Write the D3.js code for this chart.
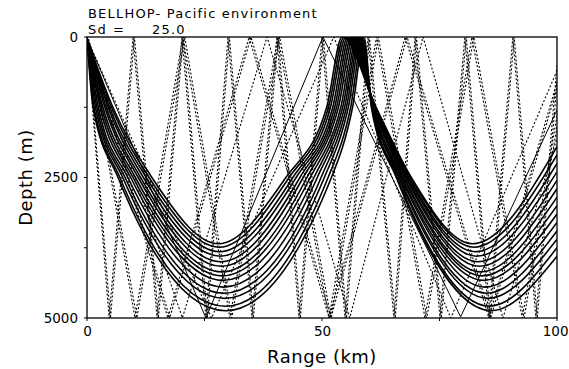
<!DOCTYPE html>
<html>
<head>
<meta charset="utf-8">
<script src="https://cdn.jsdelivr.net/npm/d3@7"></script>
<style>
  body { margin: 0; background: #fff; }
  svg text { font-family: "DejaVu Sans", sans-serif; fill: #000; }
</style>
</head>
<body>
<div id="chart"></div>
<script>
// ---- values (range in km, depth in m) ----
const rangeTicks = [0, 50, 100];
const rangeMinor = [25, 75];
const depthTicks = [0, 2500, 5000];
const depthMinor = [1250, 3750];
const sourceDepth = 25;

// refracted (solid) rays, shallowest turning ray first
const turnDepth  = [3680, 3740, 3820, 3900, 4000, 4080, 4180, 4250, 4330, 4450, 4560, 4650, 4790, 4870];
const down1250   = [5.5, 5.2, 4.8, 4.5, 4.1, 3.8, 3.4, 3.1, 2.8, 2.4, 2.1, 1.8, 1.5, 1.3];
const down2500   = [13.8, 13.2, 12.6, 12.0, 11.4, 10.9, 10.3, 9.8, 9.3, 8.7, 8.1, 7.6, 7.0, 6.6];
const turn1      = [28.0, 28.1, 28.2, 28.4, 28.5, 28.6, 28.7, 28.8, 28.9, 29.0, 29.1, 29.2, 29.4, 29.5];
const up2500     = [42.3, 43.0, 43.8, 44.5, 45.3, 46.0, 46.8, 47.5, 48.3, 49.0, 49.8, 50.5, 51.3, 52.0];
const up1250     = [51.0, 51.4, 51.8, 52.3, 52.7, 53.1, 53.5, 54.0, 54.4, 54.8, 55.2, 55.6, 56.1, 56.5];
const surface1   = [54.3, 54.7, 55.1, 55.5, 55.9, 56.3, 56.7, 57.1, 57.5, 57.8, 58.1, 58.4, 58.7, 59.0];
const down1250b  = [61.5, 61.4, 61.4, 61.3, 61.2, 61.2, 61.1, 61.0, 60.9, 60.8, 60.8, 60.7, 60.6, 60.5];
const down2500b  = [69.0, 68.8, 68.5, 68.3, 68.0, 67.8, 67.5, 67.3, 67.0, 66.8, 66.5, 66.3, 66.0, 65.8];
const turn2      = [82.0, 82.3, 82.6, 82.9, 83.2, 83.5, 83.8, 84.1, 84.4, 84.7, 85.0, 85.3, 85.6, 86.0];
const depthAt100 = [1950, 2100, 2250, 2400, 2550, 2700, 2850, 3000, 3150, 3300, 3450, 3600, 3750, 3900];

// steep ray that grazes the bottom (solid)
const grazeRay = [[0, 25], [25.3, 5000], [50.2, 0], [79.5, 4980], [100, 1300]];

// bottom-bouncing (dotted) rays: ranges of successive bounces
const bounceA  = [4.7, 9.8, 14.9, 20.2, 25.3, 30.0, 35.1, 40.4, 45.1, 50.0, 54.9, 59.8, 65.3, 69.8, 75.1, 80.4, 85.5, 90.6, 95.5];
const bounceA2 = [0.1, 5.0, 10.1, 15.2, 20.5, 25.6, 30.3, 35.4, 40.7, 45.4, 50.3, 55.2, 60.1, 65.6, 70.1, 75.4, 80.7, 85.8, 90.9, 95.8];
const bounceB  = [10.2, 20.4, 30.4, 40.6, 51.5, 61.6, 71.9, 81.9, 92.6];
const bounceB2 = [0.2, 10.6, 20.8, 30.8, 41.0, 51.9, 62.0, 72.3, 82.3, 93.0];
const bounceC  = [17.2, 34.5, 51.5, 67.7, 85.5];
const bounceC2 = [0.2, 17.6, 34.9, 51.9, 68.1, 85.9];
const bounceD  = [20.3, 38.3, 55.9, 71.5, 88.5];
const bounceE  = [26.5, 52.5, 77.4];
// first bounce on the bottom (true) or the surface (false), and depth at 100 km
const dottedRays = [
  { bounces: bounceA,  bottomFirst: true,  end: 500 },
  { bounces: bounceA2, bottomFirst: false, end: 800 },
  { bounces: bounceB,  bottomFirst: true,  end: 1400 },
  { bounces: bounceB2, bottomFirst: false, end: 1600 },
  { bounces: bounceC,  bottomFirst: true,  end: 800 },
  { bounces: bounceC2, bottomFirst: false, end: 900 },
  { bounces: bounceD,  bottomFirst: true,  end: 1800 },
  { bounces: bounceE,  bottomFirst: true,  end: 600 }
];

// ---- layout ----
const width = 569, height = 369;
const margin = { top: 37, right: 12, bottom: 51, left: 87 };
const innerW = width - margin.left - margin.right;
const innerH = height - margin.top - margin.bottom;
const bottomDepth = 5000;

const svg = d3.select('#chart').append('svg')
  .attr('width', width)
  .attr('height', height);

const x = d3.scaleLinear().domain([0, 100]).range([margin.left, margin.left + innerW]);
const y = d3.scaleLinear().domain([0, bottomDepth]).range([margin.top, margin.top + innerH]);

// clip the rays to the plot box
svg.append('clipPath').attr('id', 'box')
  .append('rect')
  .attr('x', x(0)).attr('y', y(0))
  .attr('width', innerW).attr('height', innerH);

const plot = svg.append('g').attr('clip-path', 'url(#box)');

// build solid ray point lists from the columns
const solidRays = turnDepth.map((z, i) => [
  [0, sourceDepth],
  [down1250[i], 1250],
  [down2500[i], 2500],
  [turn1[i], z],
  [up2500[i], 2500],
  [up1250[i], 1250],
  [surface1[i], 0],
  [down1250b[i], 1250],
  [down2500b[i], 2500],
  [turn2[i], z],
  [100, depthAt100[i]]
]);

const smooth = d3.line().x(d => x(d[0])).y(d => y(d[1])).curve(d3.curveMonotoneX);
const straight = d3.line().x(d => x(d[0])).y(d => y(d[1]));

// dotted rays
const dottedPts = dottedRays.map(r => {
  const pts = [[0, sourceDepth]];
  r.bounces.forEach((b, k) => {
    const onBottom = (k % 2 === 0) === r.bottomFirst;
    pts.push([b, onBottom ? bottomDepth : 0]);
  });
  pts.push([100, r.end]);
  return pts;
});

plot.selectAll('path.dotted')
  .data(dottedPts)
  .join('path')
    .attr('class', 'dotted')
    .attr('d', straight)
    .attr('fill', 'none')
    .attr('stroke', '#000')
    .attr('stroke-width', 1.1)
    .attr('stroke-dasharray', '2,2');

plot.selectAll('path.solid')
  .data(solidRays)
  .join('path')
    .attr('class', 'solid')
    .attr('d', smooth)
    .attr('fill', 'none')
    .attr('stroke', '#000')
    .attr('stroke-width', 1.6);

plot.append('path')
  .datum(grazeRay)
  .attr('d', straight)
  .attr('fill', 'none')
  .attr('stroke', '#000')
  .attr('stroke-width', 1);

// ---- frame and axes ----
svg.append('rect')
  .attr('x', x(0)).attr('y', y(0))
  .attr('width', innerW).attr('height', innerH)
  .attr('fill', 'none')
  .attr('stroke', '#000')
  .attr('stroke-width', 1.3);

const xAxis = d3.axisBottom(x).tickValues(rangeTicks).tickSize(0).tickPadding(8).tickFormat(d3.format('d'));
const yAxis = d3.axisLeft(y).tickValues(depthTicks).tickSize(0).tickPadding(9).tickFormat(d3.format('d'));

svg.append('g')
  .attr('transform', `translate(0,${y(bottomDepth)})`)
  .call(xAxis)
  .call(g => g.select('.domain').remove())
  .call(g => g.selectAll('text')
    .attr('font-size', 13.5)
    .attr('font-family', '"DejaVu Sans", sans-serif'))
  // last label sits against the page edge, keep it inside
  .call(g => g.selectAll('.tick').filter(d => d === 100).select('text')
    .attr('text-anchor', 'end')
    .attr('x', 11));

svg.append('g')
  .attr('transform', `translate(${x(0)},0)`)
  .call(yAxis)
  .call(g => g.select('.domain').remove())
  .selectAll('text')
    .attr('font-size', 13.5)
    .attr('font-family', '"DejaVu Sans", sans-serif');

// small outward ticks
svg.append('g').selectAll('line')
  .data(depthTicks.concat(depthMinor))
  .join('line')
    .attr('x1', x(0) - 3).attr('x2', x(0))
    .attr('y1', d => y(d)).attr('y2', d => y(d))
    .attr('stroke', '#000');
svg.append('g').selectAll('line')
  .data(rangeTicks.concat(rangeMinor))
  .join('line')
    .attr('x1', d => x(d)).attr('x2', d => x(d))
    .attr('y1', y(bottomDepth)).attr('y2', y(bottomDepth) + 3)
    .attr('stroke', '#000');

// titles
svg.append('text')
  .attr('x', (x(0) + x(100)) / 2)
  .attr('y', 363)
  .attr('text-anchor', 'middle')
  .attr('font-size', 18)
  .attr('letter-spacing', 0.5)
  .text('Range (km)');

svg.append('text')
  .attr('transform', `translate(32,${(y(0) + y(bottomDepth)) / 2}) rotate(-90)`)
  .attr('text-anchor', 'middle')
  .attr('font-size', 18)
  .attr('letter-spacing', 0.5)
  .text('Depth (m)');

svg.append('text')
  .attr('x', 88).attr('y', 18)
  .attr('font-size', 13)
  .attr('letter-spacing', 1.2)
  .text('BELLHOP- Pacific environment');

svg.append('text')
  .attr('x', 88).attr('y', 34)
  .attr('font-size', 13)
  .attr('letter-spacing', 1.2)
  .text('Sd');
svg.append('text')
  .attr('x', 113).attr('y', 34)
  .attr('font-size', 13)
  .text('=');
svg.append('text')
  .attr('x', 152).attr('y', 34)
  .attr('font-size', 13)
  .attr('letter-spacing', 1.2)
  .text('25.0');
</script>
</body>
</html>
